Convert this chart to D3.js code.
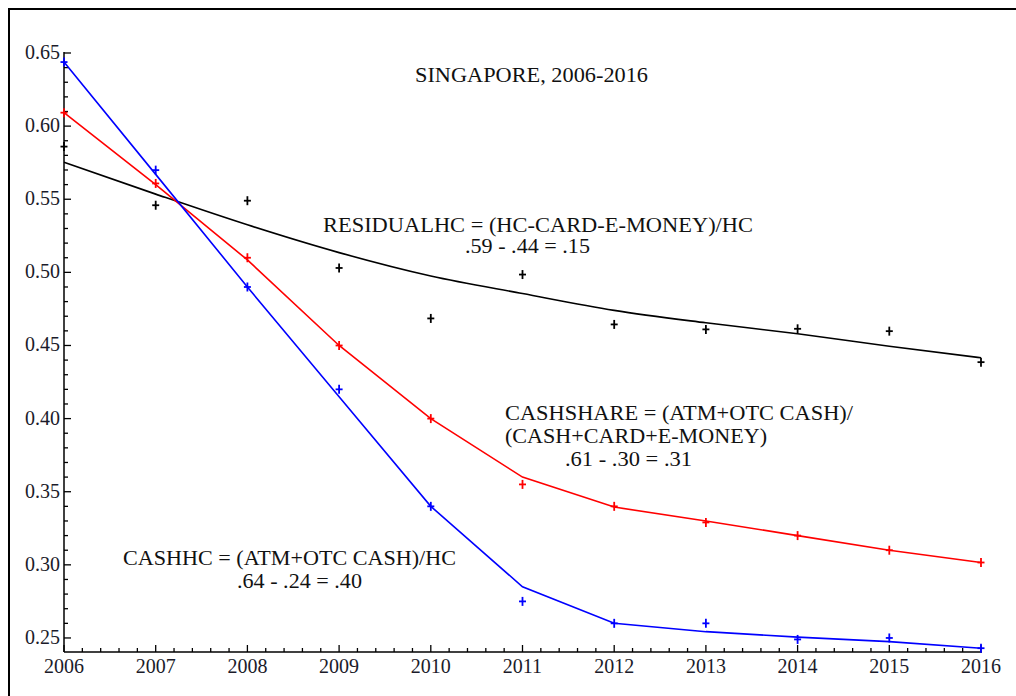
<!DOCTYPE html>
<html>
<head>
<meta charset="utf-8">
<script src="https://cdn.jsdelivr.net/npm/d3@7"></script>
<style>
html,body{margin:0;padding:0;background:#fff;}
svg{display:block;}
text{font-family:"Liberation Serif","Times New Roman",serif;}
</style>
</head>
<body>
<svg id="chart" width="1016" height="696"></svg>
<script>
// ---- data ----
const years = [2006,2007,2008,2009,2010,2011,2012,2013,2014,2015,2016];
const yTickValues = [0.25,0.30,0.35,0.40,0.45,0.50,0.55,0.60,0.65];
const xTickValues = years;

const cashhcPoints   = [0.6438,0.5699,0.4900,0.4200,0.3400,0.2750,0.2600,0.2600,0.2490,0.2500,0.2430];
const cashhcFit      = [0.6438,0.5670,0.4900,0.4150,0.3400,0.2850,0.2600,0.2543,0.2506,0.2475,0.2430];
const cashsharePoints= [0.6092,0.5608,0.5100,0.4500,0.4000,0.3550,0.3400,0.3290,0.3200,0.3100,0.3016];
const cashshareFit   = [0.6092,0.5600,0.5085,0.4500,0.4000,0.3600,0.3395,0.3300,0.3200,0.3100,0.3016];
const residualPoints = [0.5860,0.5459,0.5490,0.5030,0.4685,0.4985,0.4644,0.4610,0.4614,0.4598,0.4386];
const residualFit    = [0.5753,0.5535,0.5325,0.5135,0.4975,0.4855,0.4740,0.4655,0.4580,0.4495,0.4416];

const titleText = "SINGAPORE, 2006-2016";
const residualLabel = ["RESIDUALHC = (HC-CARD-E-MONEY)/HC", ".59 - .44 = .15"];
const cashshareLabel = ["CASHSHARE = (ATM+OTC CASH)/", "(CASH+CARD+E-MONEY)", ".61 - .30 = .31"];
const cashhcLabel = ["CASHHC = (ATM+OTC CASH)/HC", ".64 - .24 = .40"];

// ---- layout ----
const svg = d3.select("#chart");
const x = d3.scaleLinear().domain([2006,2016]).range([64,981]);
const y = d3.scaleLinear().domain([0.2404,0.65]).range([652,53]);

// frame
svg.append("line").attr("x1",9).attr("x2",9).attr("y1",8).attr("y2",696).attr("stroke","#000").attr("stroke-width",2);
svg.append("line").attr("x1",8).attr("x2",1016).attr("y1",9).attr("y2",9).attr("stroke","#000").attr("stroke-width",2);

// axes
const axisG = svg.append("g");
const minorX = d3.range(2006,2016.0001,0.2).filter(v=>Math.abs(v-Math.round(v))>1e-6);
const minorY = d3.range(0.25,0.6501,0.01).filter(v=>Math.abs(v*20-Math.round(v*20))>1e-6);
axisG.append("line").attr("x1",64).attr("x2",982).attr("y1",652).attr("y2",652).attr("stroke","#000").attr("stroke-width",1.5);
axisG.append("line").attr("x1",64).attr("x2",64).attr("y1",52).attr("y2",652).attr("stroke","#000").attr("stroke-width",1.5);
axisG.selectAll(".xmaj").data(xTickValues).enter().append("line")
  .attr("x1",d=>x(d)).attr("x2",d=>x(d)).attr("y1",652).attr("y2",645).attr("stroke","#000").attr("stroke-width",1.3);
axisG.selectAll(".xmin").data(minorX).enter().append("line")
  .attr("x1",d=>x(d)).attr("x2",d=>x(d)).attr("y1",652).attr("y2",648).attr("stroke","#000").attr("stroke-width",1.3);
axisG.selectAll(".ymaj").data(yTickValues).enter().append("line")
  .attr("x1",64).attr("x2",71).attr("y1",d=>y(d)).attr("y2",d=>y(d)).attr("stroke","#000").attr("stroke-width",1.3);
axisG.selectAll(".ymin").data(minorY).enter().append("line")
  .attr("x1",64).attr("x2",68).attr("y1",d=>y(d)).attr("y2",d=>y(d)).attr("stroke","#000").attr("stroke-width",1.3);

axisG.selectAll(".xl").data(xTickValues).enter().append("text")
  .attr("x",d=>x(d)).attr("y",673).attr("text-anchor","middle")
  .attr("font-size",20).attr("fill","#1b1b2a").text(d=>d);
axisG.selectAll(".yl").data(yTickValues).enter().append("text")
  .attr("x",60).attr("y",d=>y(d)+6).attr("text-anchor","end")
  .attr("font-size",20).attr("fill","#1b1b2a").text(d=>d.toFixed(2));

// lines
const lineLin = d3.line().x((d,i)=>x(years[i])).y(d=>y(d));
const lineSmooth = d3.line().x((d,i)=>x(years[i])).y(d=>y(d)).curve(d3.curveMonotoneX);
svg.append("path").attr("d",lineSmooth(residualFit)).attr("fill","none").attr("stroke","#000").attr("stroke-width",1.6);
svg.append("path").attr("d",lineLin(cashshareFit)).attr("fill","none").attr("stroke","#ff0000").attr("stroke-width",1.6);
svg.append("path").attr("d",lineLin(cashhcFit)).attr("fill","none").attr("stroke","#0000ff").attr("stroke-width",1.6);

// markers
function plus(data,color){
  const g = svg.append("g").attr("stroke",color).attr("stroke-width",1.8);
  data.forEach((v,i)=>{
    const cx = x(years[i]), cy = y(v);
    g.append("line").attr("x1",cx-3.5).attr("x2",cx+3.5).attr("y1",cy).attr("y2",cy);
    g.append("line").attr("x1",cx).attr("x2",cx).attr("y1",cy-4.5).attr("y2",cy+4.5);
  });
}
plus(residualPoints,"#000");
plus(cashsharePoints,"#ff0000");
plus(cashhcPoints,"#0000ff");

// annotations
function label(lines, xs, ys, lens, size){
  lines.forEach((t,i)=>{
    svg.append("text").attr("x",xs[i]).attr("y",ys[i]).attr("font-size",size)
      .attr("fill","#111").attr("textLength",lens[i]).attr("lengthAdjust","spacingAndGlyphs").text(t);
  });
}
label([titleText],[415],[82],[233],22);
label(residualLabel,[323,465],[232,253],[430,125],20);
label(cashshareLabel,[505,505,565],[420,443,466],[348,262,127],22);
label(cashhcLabel,[123,237],[565,588],[333,125],22);
</script>
</body>
</html>
